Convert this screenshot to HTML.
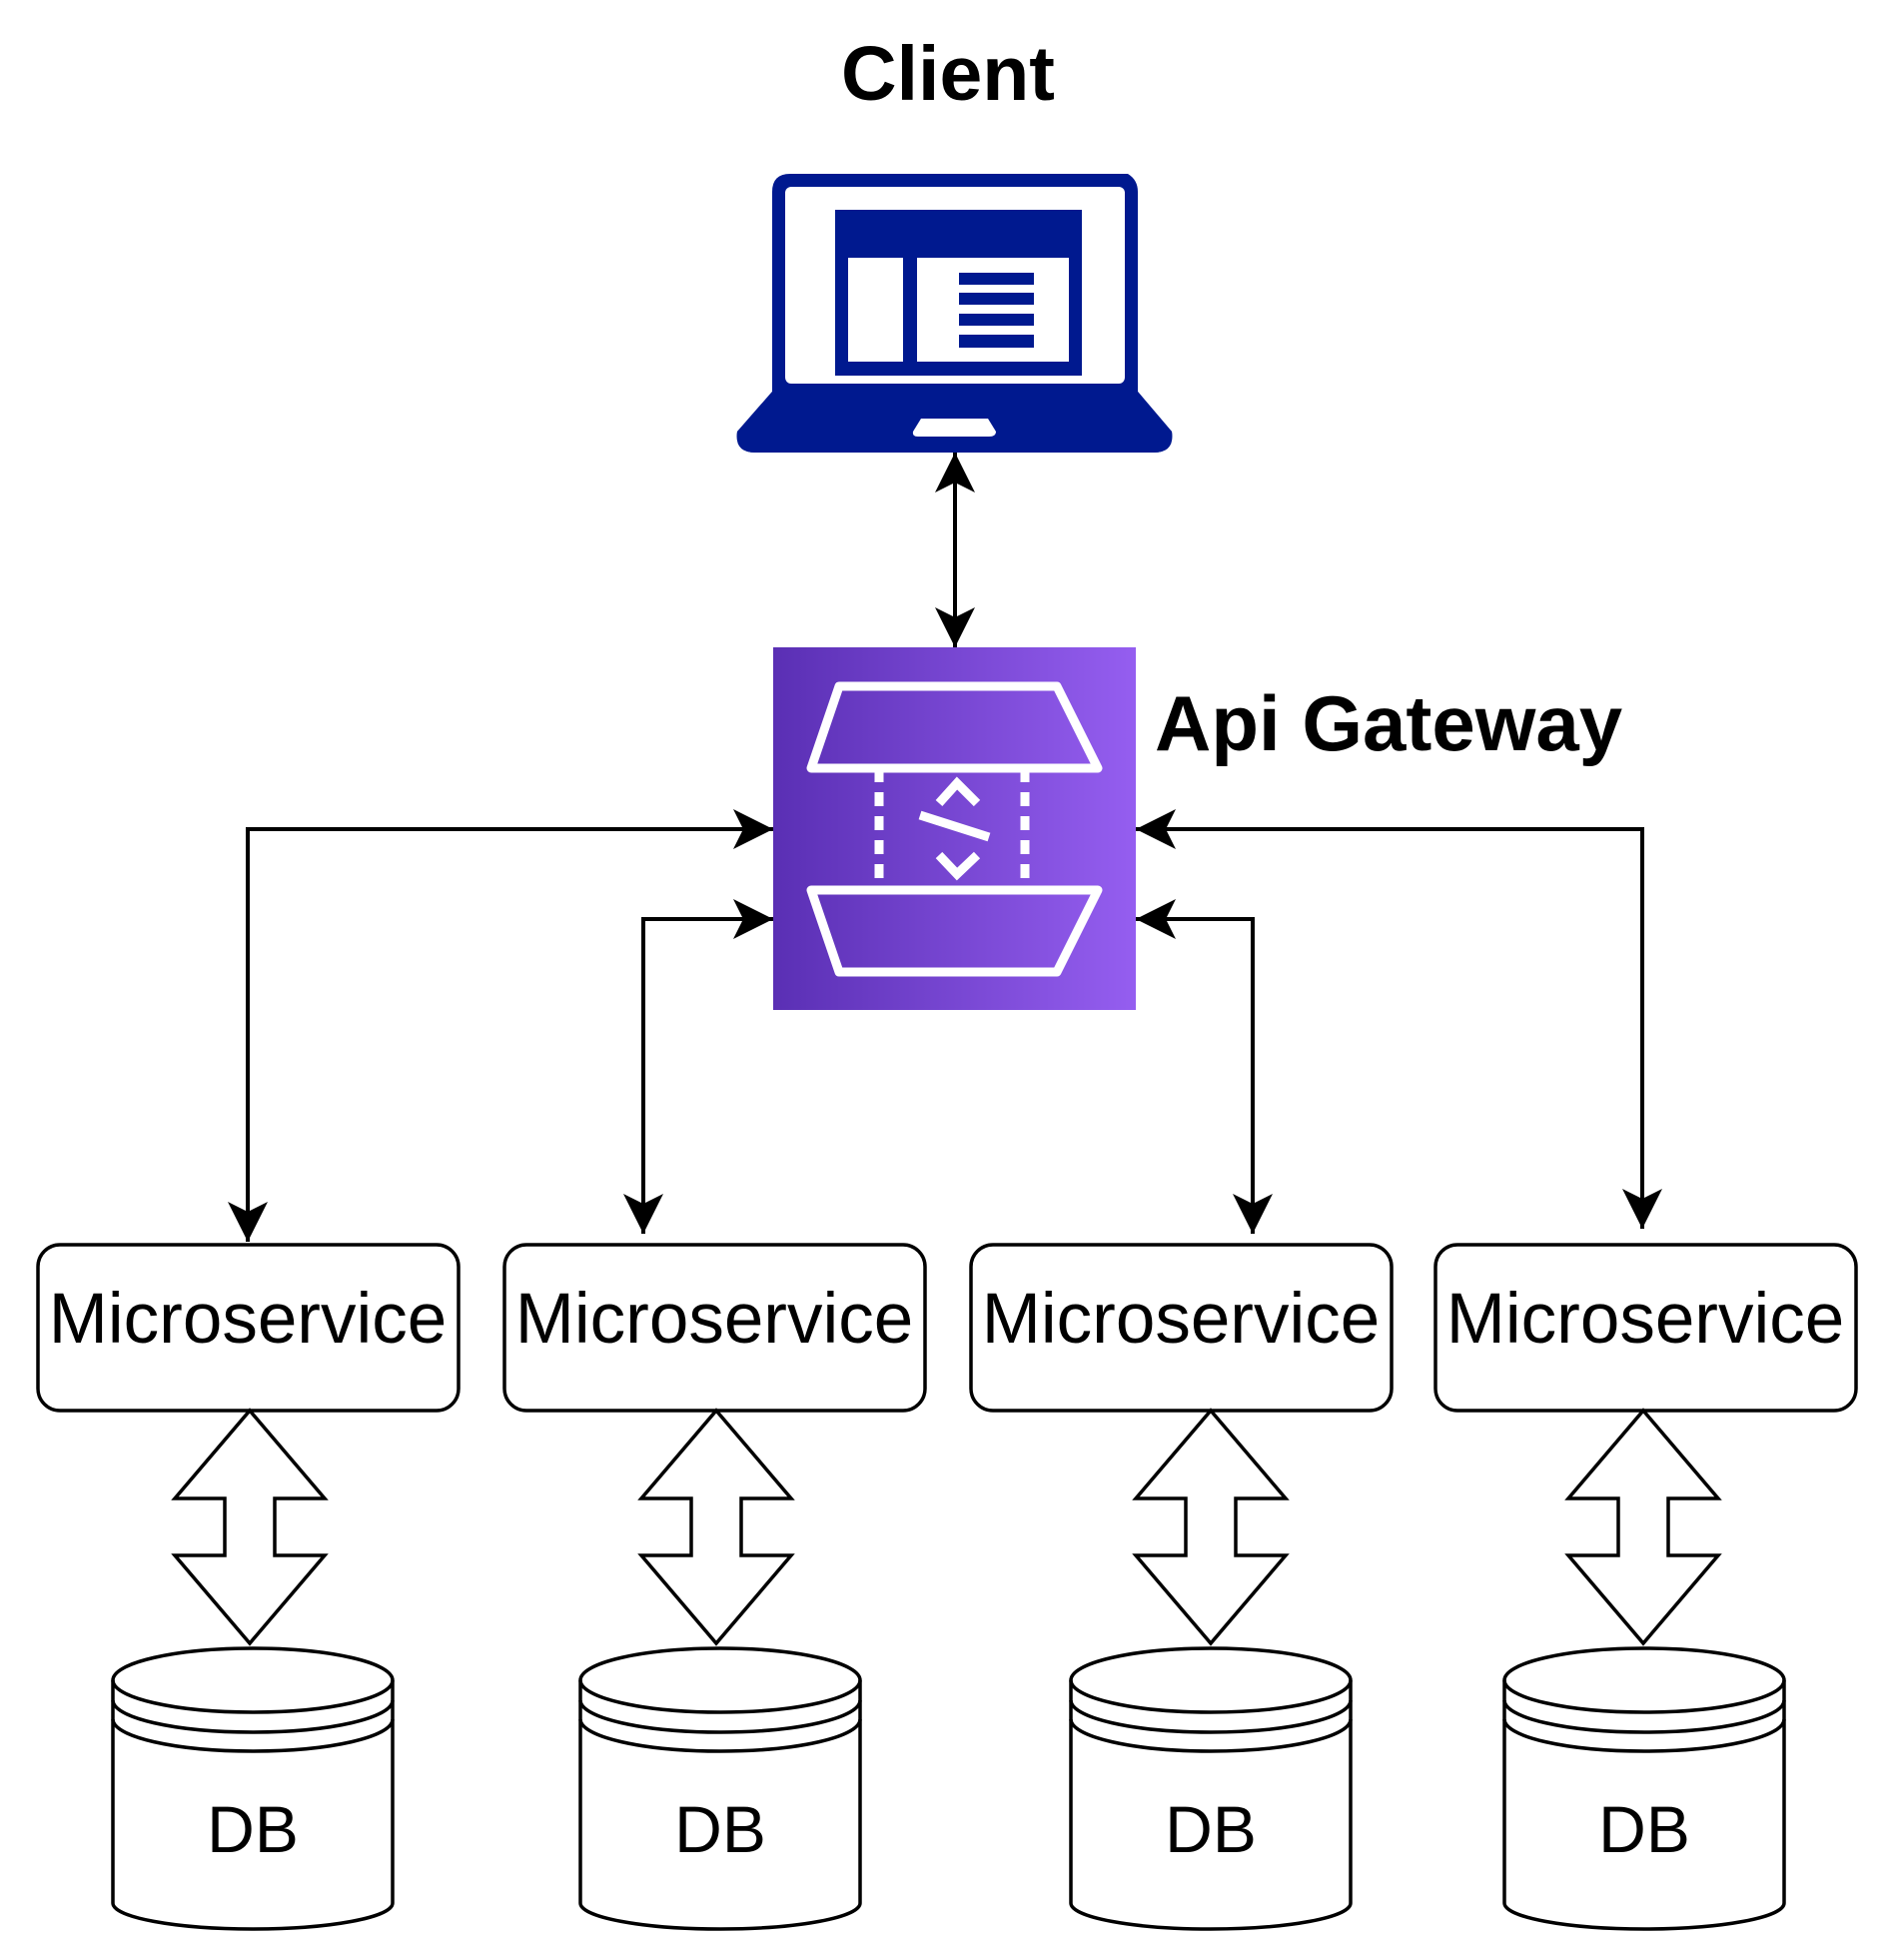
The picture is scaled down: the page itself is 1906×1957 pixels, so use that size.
<!DOCTYPE html>
<html><head><meta charset="utf-8"><style>
html,body{margin:0;padding:0;background:#fff;}
svg{display:block}
</style></head><body>
<svg width="1906" height="1957" viewBox="0 0 1906 1957" xmlns="http://www.w3.org/2000/svg">
<defs>
<linearGradient id="g" x1="0" y1="0" x2="1" y2="0">
<stop offset="0" stop-color="#5A2FB4"/><stop offset="1" stop-color="#955EF0"/>
</linearGradient>
<marker id="ah" viewBox="0 0 40 40" refX="40" refY="20" markerWidth="40" markerHeight="40" markerUnits="userSpaceOnUse" orient="auto-start-reverse">
<path d="M0,0 L40,20 L0,40 L10,20 Z" fill="#000"/>
</marker>
</defs>

<text x="949" y="100" text-anchor="middle" font-family="Liberation Sans, sans-serif" font-weight="bold" font-size="77">Client</text>

<!-- laptop -->
<path d="M773,392 L773,192 Q773,174 791,174 L1129,174 Q1139,180 1139,192 L1139,392 L1173,432 Q1176,453 1155,453 L756,453 Q735,453 738,432 Z" fill="#00198F"/>
<rect x="786" y="187" width="340" height="197" fill="#fff" rx="6"/>
<path d="M773,392 L1139,392 L1173,432 Q1176,453 1155,453 L756,453 Q735,453 738,432 Z" fill="#00198F"/>
<path d="M922,419 L989,419 L997,432 Q997,437 990,437 L919,437 Q913,437 914,432 Z" fill="#fff"/>
<rect x="836" y="210" width="247" height="166" fill="#00198F"/>
<rect x="849" y="258" width="55" height="104" fill="#fff"/>
<rect x="918" y="258" width="152" height="104" fill="#fff"/>
<g fill="#00198F">
<rect x="960" y="273" width="75" height="12"/>
<rect x="960" y="293" width="75" height="12"/>
<rect x="960" y="314" width="75" height="12"/>
<rect x="960" y="335" width="75" height="13"/>
</g>

<line x1="956" y1="453" x2="956" y2="648" stroke="#000" stroke-width="4" marker-start="url(#ah)" marker-end="url(#ah)"/>

<!-- gateway -->
<rect x="774" y="648" width="363" height="363" fill="url(#g)"/>
<g fill="none" stroke="#fff" stroke-width="9" stroke-linejoin="round">
<path d="M812,769 L840,687 L1058,687 L1099,769 Z"/>
<path d="M812,891 L1099,891 L1058,973 L840,973 Z"/>
<line x1="880" y1="769" x2="880" y2="891" stroke-dasharray="14,10"/>
<line x1="1026" y1="769" x2="1026" y2="891" stroke-dasharray="14,10"/>
<path d="M940,804 L958,784 L978,804" stroke-linejoin="miter"/>
<line x1="921" y1="816" x2="990" y2="838"/>
<path d="M940,856 L958,875 L978,856" stroke-linejoin="miter"/>
</g>
<text x="1156" y="751" font-family="Liberation Sans, sans-serif" font-weight="bold" font-size="78">Api Gateway</text>

<g fill="none" stroke="#000" stroke-width="4">
<path d="M248,1243 L248,830 L774,830" marker-start="url(#ah)" marker-end="url(#ah)"/>
<path d="M644,1235 L644,920 L774,920" marker-start="url(#ah)" marker-end="url(#ah)"/>
<path d="M1254,1235 L1254,920 L1137,920" marker-start="url(#ah)" marker-end="url(#ah)"/>
<path d="M1644,1230 L1644,830 L1137,830" marker-start="url(#ah)" marker-end="url(#ah)"/>
</g>

<g fill="#fff" stroke="#000" stroke-width="3.5">
<rect x="38" y="1246" width="421" height="166" rx="22"/>
<rect x="505" y="1246" width="421" height="166" rx="22"/>
<rect x="972" y="1246" width="421" height="166" rx="22"/>
<rect x="1437" y="1246" width="421" height="166" rx="22"/>
</g>
<g font-family="Liberation Sans, sans-serif" font-size="71" text-anchor="middle">
<text x="248" y="1344">Microservice</text>
<text x="715" y="1344">Microservice</text>
<text x="1182" y="1344">Microservice</text>
<text x="1647" y="1344">Microservice</text>
</g>

<g fill="#fff" stroke="#000" stroke-width="3.5">
<path d="M0,0 L75,88 L25,88 L25,145 L75,145 L0,233 L-75,145 L-25,145 L-25,88 L-75,88 Z" transform="translate(250,1412)"/>
<path d="M0,0 L75,88 L25,88 L25,145 L75,145 L0,233 L-75,145 L-25,145 L-25,88 L-75,88 Z" transform="translate(717,1412)"/>
<path d="M0,0 L75,88 L25,88 L25,145 L75,145 L0,233 L-75,145 L-25,145 L-25,88 L-75,88 Z" transform="translate(1212,1412)"/>
<path d="M0,0 L75,88 L25,88 L25,145 L75,145 L0,233 L-75,145 L-25,145 L-25,88 L-75,88 Z" transform="translate(1645,1412)"/>
</g>

<g fill="#fff" stroke="#000" stroke-width="3.5">
<g transform="translate(253,0)">
<path d="M-140,1682 A140,32 0 0 1 140,1682 L140,1905 A140,26 0 0 1 -140,1905 Z"/>
<path d="M-140,1682 A140,32 0 0 0 140,1682" fill="none"/>
<path d="M-140,1702 A140,32 0 0 0 140,1702" fill="none"/>
<path d="M-140,1721 A140,32 0 0 0 140,1721" fill="none"/>
</g>
<g transform="translate(721,0)">
<path d="M-140,1682 A140,32 0 0 1 140,1682 L140,1905 A140,26 0 0 1 -140,1905 Z"/>
<path d="M-140,1682 A140,32 0 0 0 140,1682" fill="none"/>
<path d="M-140,1702 A140,32 0 0 0 140,1702" fill="none"/>
<path d="M-140,1721 A140,32 0 0 0 140,1721" fill="none"/>
</g>
<g transform="translate(1212,0)">
<path d="M-140,1682 A140,32 0 0 1 140,1682 L140,1905 A140,26 0 0 1 -140,1905 Z"/>
<path d="M-140,1682 A140,32 0 0 0 140,1682" fill="none"/>
<path d="M-140,1702 A140,32 0 0 0 140,1702" fill="none"/>
<path d="M-140,1721 A140,32 0 0 0 140,1721" fill="none"/>
</g>
<g transform="translate(1646,0)">
<path d="M-140,1682 A140,32 0 0 1 140,1682 L140,1905 A140,26 0 0 1 -140,1905 Z"/>
<path d="M-140,1682 A140,32 0 0 0 140,1682" fill="none"/>
<path d="M-140,1702 A140,32 0 0 0 140,1702" fill="none"/>
<path d="M-140,1721 A140,32 0 0 0 140,1721" fill="none"/>
</g>
</g>
<g font-family="Liberation Sans, sans-serif" font-size="66" text-anchor="middle">
<text x="253" y="1854">DB</text>
<text x="721" y="1854">DB</text>
<text x="1212" y="1854">DB</text>
<text x="1646" y="1854">DB</text>
</g>
</svg>
</body></html>
